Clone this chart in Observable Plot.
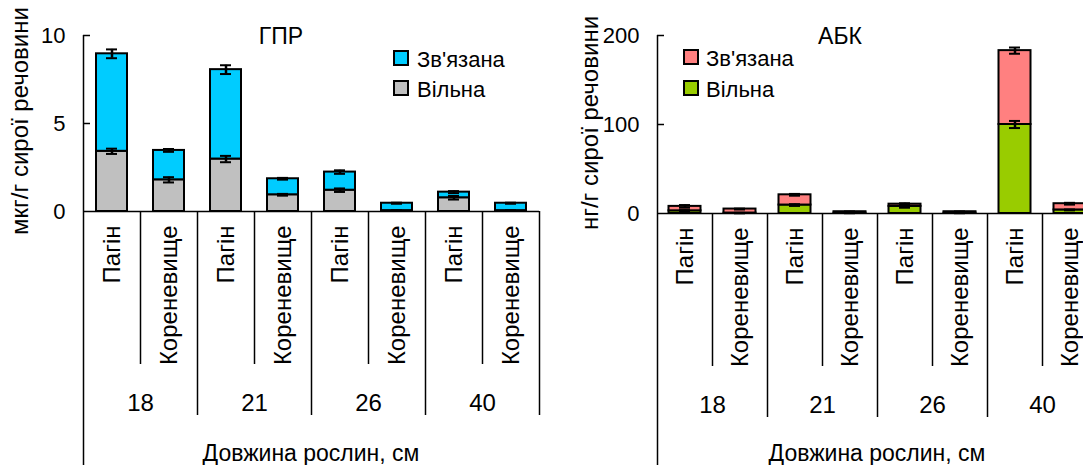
<!DOCTYPE html>
<html><head><meta charset="utf-8">
<script src="https://cdn.jsdelivr.net/npm/d3@7"></script>
<script src="https://cdn.jsdelivr.net/npm/@observablehq/plot@0.6"></script>
<style>
body{margin:0;background:#fff;}
#wrap{position:relative;width:1083px;height:465px;overflow:hidden;background:#fff;}
.pl{position:absolute;top:0;}
#ov{position:absolute;left:0;top:0;pointer-events:none;}
</style></head>
<body><div id="wrap"></div>
<script>
// ---- data ----
const lengths = ["18", "21", "26", "40"];
const parts = ["Пагін", "Кореневище"];
const seriesNames = ["Вільна", "Зв'язана"];

// ГПР, мкг/г сирої речовини (order: Пагін18, Кор18, Пагін21, Кор21, Пагін26, Кор26, Пагін40, Кор40)
const gprFree = [3.42, 1.80, 2.98, 0.95, 1.21, 0.05, 0.78, 0.05];
const gprBound = [5.54, 1.67, 5.08, 0.91, 1.03, 0.42, 0.32, 0.42];
const gprFreeErr = [0.15, 0.15, 0.18, 0.05, 0.10, 0.02, 0.10, 0.02];
const gprTotalErr = [0.25, 0.08, 0.25, 0.05, 0.10, 0.03, 0.06, 0.03];
const gprTicks = [0, 5, 10];

// АБК, нг/г сирої речовини
const abkFree = [3.0, 0.5, 9.5, 0.5, 8.0, 0.5, 100, 4.0];
const abkBound = [5.0, 4.5, 11.5, 1.5, 2.5, 1.5, 83, 7.0];
const abkFreeErr = [0.8, 0.3, 1.0, 0.2, 1.5, 0.2, 4.0, 0.5];
const abkTotalErr = [1.5, 0.5, 1.0, 0.3, 1.0, 0.3, 3.5, 1.0];
const abkTicks = [0, 100, 200];

const FONT = '"Liberation Sans", Arial, sans-serif';
const keys = lengths.flatMap(l => parts.map(p => p + "|" + l));

function chart(opt) {
  const {free, bound, freeErr, totErr, ticks, ymax, colors, width, marginLeft, marginRight, marginTop, marginBottom, barInset, capInset} = opt;
  const rows = [];
  keys.forEach((k, i) => {
    rows.push({key: k, series: seriesNames[0], value: free[i]});
    rows.push({key: k, series: seriesNames[1], value: bound[i]});
  });
  const errs = [];
  keys.forEach((k, i) => {
    errs.push({key: k, y: free[i], e: freeErr[i]});
    errs.push({key: k, y: free[i] + bound[i], e: totErr[i]});
  });
  const height = 465;
  const fw = width - marginLeft - marginRight;
  const fh = height - marginTop - marginBottom;
  const bw = fw / keys.length;
  const pagin = keys.filter(k => k.startsWith(parts[0]));
  const koren = keys.filter(k => k.startsWith(parts[1]));
  return Plot.plot({
    width, height, marginLeft, marginRight, marginTop, marginBottom,
    style: {fontFamily: FONT, fontSize: "22px", color: "#000", background: "transparent", overflow: "visible"},
    x: {type: "band", domain: keys, padding: 0, axis: null},
    y: {domain: [0, ymax]},
    color: {domain: seriesNames, range: colors},
    marks: [
      Plot.barY(rows, {x: "key", y: "value", fill: "series", stroke: "#000", strokeWidth: 2, insetLeft: barInset, insetRight: barInset}),
      Plot.ruleX(errs, {x: "key", y1: d => d.y - d.e, y2: d => d.y + d.e, stroke: "#000", strokeWidth: 2.5}),
      Plot.tickY(errs, {x: "key", y: d => d.y - d.e, stroke: "#000", strokeWidth: 2, insetLeft: capInset, insetRight: capInset}),
      Plot.tickY(errs, {x: "key", y: d => d.y + d.e, stroke: "#000", strokeWidth: 2, insetLeft: capInset, insetRight: capInset}),
      Plot.ruleY([0], {stroke: "#000", strokeWidth: 1.5}),
      // y axis line, extending to the bottom
      Plot.ruleX([keys[0]], {x: d => d, dx: -bw / 2, stroke: "#000", strokeWidth: 1.5, insetBottom: -marginBottom}),
      // inward ticks
      Plot.tickY(ticks.slice(1), {y: d => d, stroke: "#000", strokeWidth: 1.5, insetRight: fw - 7}),
      Plot.axisY({ticks, tickSize: 0, tickPadding: 18, fontSize: 22, label: null}),
      // dividers between parts
      Plot.ruleX(koren, {x: d => d, dx: -bw / 2, stroke: "#000", strokeWidth: 1.5, insetTop: fh, insetBottom: -153}),
      // dividers between groups
      Plot.ruleX(pagin.slice(1), {x: d => d, dx: -bw / 2, stroke: "#000", strokeWidth: 1.5, insetTop: fh, insetBottom: -204}),
      Plot.ruleX([keys[keys.length - 1]], {x: d => d, dx: bw / 2, stroke: "#000", strokeWidth: 1.5, insetTop: fh, insetBottom: -204}),
      // category labels
      Plot.text(keys, {x: d => d, y: () => 0, text: d => d.split("|")[0], rotate: -90, textAnchor: "end", lineAnchor: "middle", dy: 14, fontSize: 24, fill: "#000"}),
      // group labels
      Plot.text(pagin, {x: d => d, y: () => 0, text: d => d.split("|")[1], dx: bw / 2, dy: 199, lineAnchor: "bottom", fontSize: 24, fill: "#000"})
    ]
  });
}

const wrap = document.getElementById("wrap");
const left = chart({free: gprFree, bound: gprBound, freeErr: gprFreeErr, totErr: gprTotalErr, ticks: gprTicks, ymax: 10,
  colors: ["#C0C0C0", "#00CCFF"], width: 560, marginLeft: 83, marginRight: 21, marginTop: 35, marginBottom: 254, barInset: 13, capInset: 23});
left.classList.add("pl"); left.style.left = "0px";
wrap.appendChild(left);
const right = chart({free: abkFree, bound: abkBound, freeErr: abkFreeErr, totErr: abkTotalErr, ticks: abkTicks, ymax: 200,
  colors: ["#99CC00", "#FF8080"], width: 537, marginLeft: 97, marginRight: 0, marginTop: 35, marginBottom: 252, barInset: 11.5, capInset: 22});
right.classList.add("pl"); right.style.left = "560px";
wrap.appendChild(right);

// ---- overlay: titles, legends, axis titles ----
const titles = ["ГПР", "АБК"];
const yLabels = ["мкг/г сирої речовини", "нг/г сирої речовини"];
const xTitle = "Довжина рослин, см";
const ov = d3.select(wrap).append("svg").attr("id", "ov").attr("width", 1083).attr("height", 465)
  .style("font-family", FONT).style("fill", "#000");
function txt(x, y, s, size, anchor, rot) {
  const t = ov.append("text").attr("x", x).attr("y", y).attr("font-size", size).attr("text-anchor", anchor || "start").text(s);
  if (rot) t.attr("transform", `rotate(${rot},${x},${y})`);
  return t;
}
txt(281, 44, titles[0], 23, "middle");
txt(840, 44, titles[1], 23, "middle");
txt(19, 121, yLabels[0], 24, "middle", -90).attr("dominant-baseline", "central");
txt(589, 123, yLabels[1], 24, "middle", -90).attr("dominant-baseline", "central");
txt(311, 461, xTitle, 23, "middle");
txt(877, 461, xTitle, 23, "middle");
const legends = [
  {x: 394, ys: [51, 81], colors: ["#00CCFF", "#C0C0C0"], tx: 417},
  {x: 684, ys: [50, 81], colors: ["#FF8080", "#99CC00"], tx: 706}
];
const legLabels = ["Зв'язана", "Вільна"];
legends.forEach(L => {
  L.ys.forEach((y, i) => {
    ov.append("rect").attr("x", L.x).attr("y", y).attr("width", 14).attr("height", 14)
      .attr("fill", L.colors[i]).attr("stroke", "#000").attr("stroke-width", 2);
    txt(L.tx, y + 16, legLabels[i], 22, "start");
  });
});
</script></body></html>
